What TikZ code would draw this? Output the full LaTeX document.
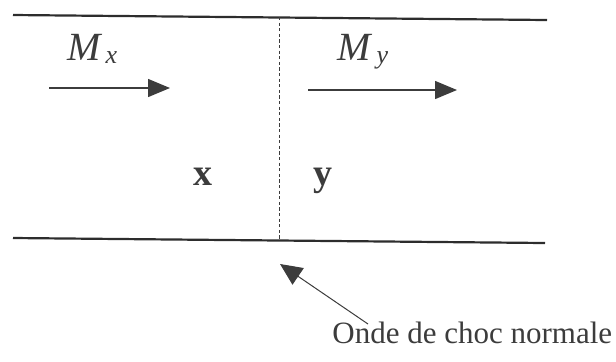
\documentclass[tikz,border=0pt]{standalone}
\usepackage{fontspec}
\setmainfont{Liberation Serif}
\usepackage{xcolor}
\usetikzlibrary{arrows.meta,positioning}
\definecolor{wallGray}{RGB}{45,45,45}
\definecolor{inkGray}{RGB}{60,60,60}

\begin{document}
\begin{tikzpicture}[x=0.5pt,y=-0.5pt,
    wall/.style={wallGray, line width=1.1pt},
    flow/.style={-{Triangle[length=11pt,width=9pt]}, line width=0.7pt, inkGray},
    lbl/.style={text=inkGray, inner sep=0pt}]
    \useasboundingbox (0,0) rectangle (616,361);

    % duct walls
    \coordinate (topL) at (13,15);
    \coordinate (topR) at (547,20);
    \coordinate (botL) at (13,238);
    \coordinate (botR) at (545,243);
    \draw[wall] (topL) -- (topR);
    \draw[wall] (botL) -- (botR);

    % shock front
    \coordinate (shockTop) at (279,17);
    \coordinate (shockBot) at (279,240);
    \draw[inkGray, line width=0.5pt, dash pattern=on 1.6pt off 1.2pt] (shockTop) -- (shockBot);

    % upstream side
    \node[lbl, anchor=base west] (machX) at (67,60)
        {\fontsize{20}{20}\selectfont\textit{M}\hspace{1.5pt}\raisebox{-1.5pt}{\fontsize{13}{13}\selectfont\textit{x}}};
    \coordinate (flowXa) at (49,88);
    \coordinate (flowXb) at (170,88);
    \draw[flow] (flowXa) -- (flowXb);
    \node[lbl, anchor=base] (zoneX) at (203,185) {\fontsize{19}{19}\selectfont\textbf{x}};

    % downstream side
    \node[lbl, anchor=base west] (machY) at (337,60)
        {\fontsize{20}{20}\selectfont\textit{M}\hspace{2pt}\raisebox{-1.5pt}{\fontsize{13}{13}\selectfont\textit{y}}};
    \coordinate (flowYa) at (308,90);
    \coordinate (flowYb) at (457,90);
    \draw[flow] (flowYa) -- (flowYb);
    \node[lbl, anchor=base] (zoneY) at (323,185) {\fontsize{19}{19}\selectfont\textbf{y}};

    % caption
    \node[lbl, anchor=base west] (onde) at (332,343)
        {\fontsize{15.5}{15.5}\selectfont Onde de choc normale};
    \coordinate (leadTail) at (368,324);
    \coordinate (leadTip) at (280,264);
    \draw[-{Triangle[length=11pt,width=10pt]}, line width=0.5pt, inkGray] (leadTail) -- (leadTip);
\end{tikzpicture}
\end{document}
